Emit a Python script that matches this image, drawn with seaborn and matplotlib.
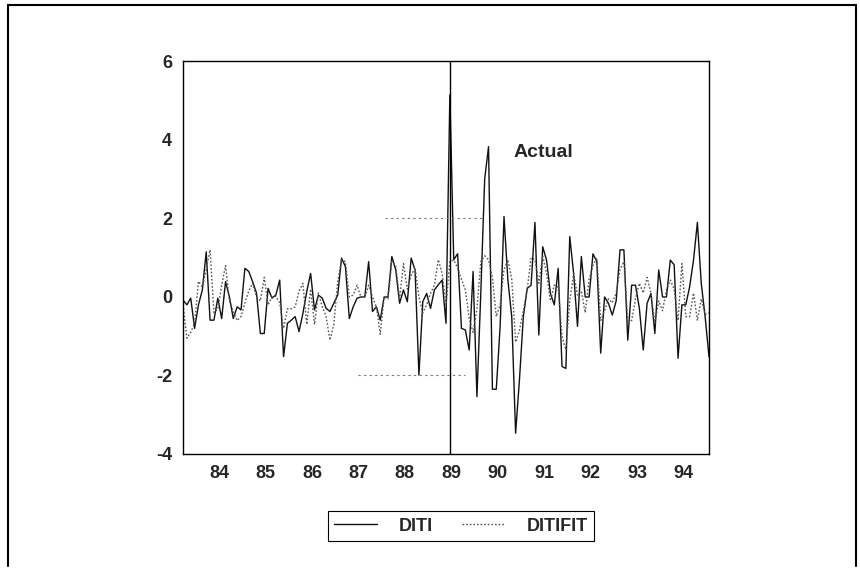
import numpy as np
import pandas as pd
import matplotlib
matplotlib.use("Agg")
import matplotlib.pyplot as plt
import seaborn as sns
from matplotlib.transforms import ScaledTranslation
from matplotlib.lines import Line2D

# ---- data (monthly, 1983:07 - 1994:11) ----
start_month = "1983-07"
end_month = "1994-11"
diti = [-0.08, -0.2, -0.03, -0.8, -0.2, 0.18, 1.15, -0.59, -0.59, -0.03,
        -0.55, 0.39, 0.0, -0.55, -0.25, -0.33, 0.73, 0.65, 0.39, 0.1,
        -0.93, -0.93, 0.22, -0.03, 0.05, 0.43, -1.52, -0.67, -0.59, -0.5,
        -0.88, -0.42, 0.14, 0.6, -0.33, 0.05, -0.03, -0.29, -0.37, -0.16,
        0.05, 0.99, 0.77, -0.55, -0.25, -0.03, 0.0, 0.0, 0.9, -0.37,
        -0.25, -0.59, 0.0, 0.0, 1.03, 0.69, -0.16, 0.18, -0.12, 0.99,
        0.69, -1.99, -0.12, 0.09, -0.29, 0.18, 0.31, 0.43, -0.67, 5.15,
        0.95, 1.1, -0.8, -0.84, -1.35, 0.65, -2.54, 0.1, 3.0, 3.83,
        -2.35, -2.35, -0.75, 2.05, 0.43, -0.5, -3.47, -2.1, -0.5, 0.22,
        0.3, 1.9, -0.97, 1.28, 0.94, 0.09, -0.2, 0.73, -1.77, -1.82,
        1.54, 0.6, -0.75, 1.03, 0.0, 0.0, 1.1, 0.9, -1.43, 0.0,
        -0.16, -0.46, -0.1, 1.2, 1.2, -1.1, 0.3, 0.3, -0.29, -1.35,
        -0.16, 0.09, -0.93, 0.69, 0.0, 0.0, 0.94, 0.82, -1.56, -0.2,
        -0.2, 0.26, 0.94, 1.9, 0.35, -0.5, -1.52]
ditifit = [-0.2, -1.05, -0.9, -0.67, 0.4, 0.26, 0.7, 1.2, -0.4, -0.3,
           0.3, 0.8, -0.1, -0.37, -0.6, -0.5, -0.15, 0.15, 0.35, 0.0,
           -0.1, 0.5, -0.2, 0.0, 0.02, -0.15, -0.8, -0.3, -0.3, -0.25,
           0.15, 0.35, -0.7, 0.2, -0.7, 0.1, -0.25, -0.5, -1.1, -0.7,
           0.4, 0.95, 0.9, 0.0, 0.05, 0.3, 0.0, 0.0, 0.3, 0.0,
           -0.25, -0.95, 0.0, -0.05, 0.9, 0.8, -0.05, 0.85, 0.2, 0.55,
           0.75, 0.0, -0.4, -0.2, 0.1, 0.3, 0.95, 0.6, -0.2, 0.9,
           0.94, 0.75, 0.45, 0.18, -0.55, -0.9, -0.3, 0.9, 1.05, 0.95,
           0.5, -0.5, -0.2, 0.7, 0.95, 0.45, -1.15, -0.85, -0.35, 0.2,
           1.0, 0.95, 0.35, 1.05, 0.6, -0.1, 0.3, 0.25, -1.0, -1.35,
           -0.1, 0.6, 0.05, 0.15, -0.4, 0.45, 0.8, 1.0, -0.6, -0.35,
           -0.05, -0.15, 0.1, 0.7, 0.9, -0.6, -0.6, -0.05, 0.35, 0.1,
           0.5, 0.1, -0.67, -0.1, -0.35, 0.18, 0.43, 0.2, -0.6, 0.85,
           -0.5, -0.5, 0.1, -0.6, -0.05, -0.45, -0.4]
year_ticks = list(range(84, 95))
year_labels = [str(y) for y in year_ticks]
y_ticks = [-4, -2, 0, 2, 4, 6]
break_month = "1989-04"
annotation_text = "Actual"
annotation_pos = (90.62, 3.67)
# faint reference segments: (level, x_from, x_to)
ref_segments = [(2, 87.85, 90.0), (-2, 87.26, 89.58)]

months = pd.period_range(start_month, end_month, freq="M")
t = (months.year - 1900) + (months.month - 1) / 12.0
df = pd.DataFrame({"t": t, "DITI": diti, "DITIFIT": ditifit})
long = df.melt("t", var_name="series", value_name="value")

sns.set_style("white")
plt.rcParams["font.family"] = ["Liberation Sans", "DejaVu Sans"]
plt.rcParams["font.weight"] = "bold"

fig = plt.figure(figsize=(8.6, 5.73), dpi=100)
ax = fig.add_axes([0.2128, 0.2077, 0.6116, 0.685])

sns.lineplot(data=long, x="t", y="value", hue="series", style="series",
             palette={"DITI": "#111111", "DITIFIT": "#555555"},
             dashes={"DITI": "", "DITIFIT": (1.2, 1.4)},
             linewidth=1.0, ax=ax, legend=False)

bp = pd.Period(break_month, freq="M")
ax.axvline((bp.year - 1900) + (bp.month - 1) / 12.0, color="black", lw=1.0)
for lev, x0, x1 in ref_segments:
    ax.hlines(lev, x0, x1, colors="#777777", linestyles=(0, (2, 3)), lw=0.8)

ax.text(annotation_pos[0], annotation_pos[1], annotation_text, fontsize=14,
        fontweight="bold", ha="left", va="center")

ax.set_xlim(t[0], t[-1])
ax.set_ylim(-4, 6)
ax.set_xticks(year_ticks)
ax.set_xticklabels(year_labels)
ax.set_yticks(y_ticks)
ax.set_yticklabels([str(v) for v in y_ticks])
ax.set_xlabel("")
ax.set_ylabel("")
ax.tick_params(axis="x", direction="in", length=3, width=0.8, pad=8, labelsize=13)
ax.tick_params(axis="y", direction="out", length=2, width=0.8, pad=6, labelsize=13)
for lbl in ax.get_xticklabels():
    lbl.set_transform(lbl.get_transform() + ScaledTranslation(0.13, 0, fig.dpi_scale_trans))
for s in ax.spines.values():
    s.set_visible(True)
    s.set_color("black")
    s.set_linewidth(1.0)

handles = [Line2D([], [], color="#111111", lw=1.0),
           Line2D([], [], color="#555555", lw=1.0, ls=(0, (1.2, 1.4)))]
leg = fig.legend(handles, ["DITI", "DITIFIT"], loc="center",
                 bbox_to_anchor=(0.536, 0.082), ncol=2, frameon=True,
                 fancybox=False, edgecolor="black", framealpha=1,
                 handlelength=2.4, columnspacing=1.6, handletextpad=1.2,
                 borderpad=0.35, borderaxespad=0.0,
                 prop={"size": 13, "weight": "bold"})
leg.get_frame().set_linewidth(0.8)

# outer frame of the page
fx = lambda px: px / 860.0
fy = lambda py: 1 - py / 573.0
for xs, ys in [([fx(8), fx(8)], [fy(566), fy(5)]),
               ([fx(8), fx(856)], [fy(5), fy(5)]),
               ([fx(856), fx(856)], [fy(5), fy(566)])]:
    fig.add_artist(Line2D(xs, ys, transform=fig.transFigure, color="black", lw=1.5))

fig.savefig("out.png", dpi=100)
